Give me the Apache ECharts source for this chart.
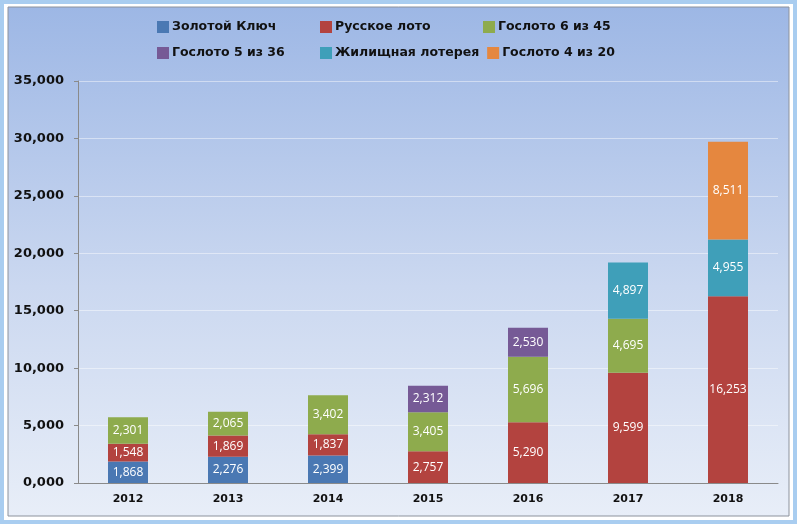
<!DOCTYPE html>
<html>
<head>
<meta charset="utf-8">
<script src="https://cdn.jsdelivr.net/npm/echarts@6/dist/echarts.min.js"></script>
<style>
  html, body { margin: 0; padding: 0; }
  #chart { width: 797px; height: 524px; }
</style>
</head>
<body>
<div id="chart"></div>
<script>
  const years = ['2012', '2013', '2014', '2015', '2016', '2017', '2018'];
  const zolotoyKlyuch = [1868, 2276, 2399, null, null, null, null];
  const russkoeLoto = [1548, 1869, 1837, 2757, 5290, 9599, 16253];
  const gosloto645 = [2301, 2065, 3402, 3405, 5696, 4695, null];
  const gosloto536 = [null, null, null, 2312, 2530, null, null];
  const zhilishchnaya = [null, null, null, null, null, 4897, 4955];
  const gosloto420 = [null, null, null, null, null, null, 8511];

  const seriesDefs = [
    ['Золотой Ключ', zolotoyKlyuch, '#4a78b3'],
    ['Русское лото', russkoeLoto, '#b3433f'],
    ['Гослото 6 из 45', gosloto645, '#8eab4d'],
    ['Гослото 5 из 36', gosloto536, '#765a96'],
    ['Жилищная лотерея', zhilishchnaya, '#3f9fb9'],
    ['Гослото 4 из 20', gosloto420, '#e5873f']
  ];

  const fmt = v => v.toLocaleString('en-US');

  const chart = echarts.init(document.getElementById('chart'), null, { renderer: 'canvas' });

  chart.setOption({
    animation: false,
    graphic: [
      { type: 'rect', z: -10, shape: { x: 0, y: 0, width: 797, height: 524 }, style: { fill: '#a9cdf0' } },
      { type: 'rect', z: -9, shape: { x: 4, y: 4, width: 789, height: 516 }, style: { fill: '#ffffff' } },
      {
        type: 'rect', z: -8,
        shape: { x: 8, y: 7, width: 781, height: 509 },
        style: {
          fill: new echarts.graphic.LinearGradient(0, 0, 0, 1, [
            { offset: 0, color: '#9db7e5' },
            { offset: 0.55, color: '#cbd8f0' },
            { offset: 1, color: '#e8eef8' }
          ]),
          stroke: '#8c929c',
          lineWidth: 1
        }
      }
    ],
    legend: {
      left: 157,
      top: 18,
      width: 500,
      padding: 0,
      itemWidth: 12,
      itemHeight: 12,
      itemGap: 8,
      icon: 'rect',
      textStyle: {
        fontFamily: 'DejaVu Sans',
        fontWeight: 'bold',
        fontSize: 12.5,
        color: '#111',
        width: 140,
        lineHeight: 18,
        padding: [0, 0, 0, -2]
      },
      data: seriesDefs.map(d => d[0])
    },
    grid: { left: 78, right: 19, top: 81, bottom: 41 },
    xAxis: {
      type: 'category',
      data: years,
      axisLine: { lineStyle: { color: '#8a8a8a' } },
      axisTick: { length: 5, lineStyle: { color: '#8a8a8a' } },
      axisLabel: {
        margin: 11,
        fontFamily: 'DejaVu Sans',
        fontWeight: 'bold',
        fontSize: 11,
        color: '#111'
      }
    },
    yAxis: {
      type: 'value',
      min: 0,
      max: 35000,
      interval: 5000,
      axisLine: { show: true, lineStyle: { color: '#8a8a8a' } },
      axisTick: { show: true, length: 4, lineStyle: { color: '#8a8a8a' } },
      splitLine: { lineStyle: { color: 'rgba(255,255,255,0.45)' } },
      axisLabel: {
        margin: 14,
        fontFamily: 'DejaVu Sans',
        fontWeight: 'bold',
        fontSize: 13,
        color: '#111',
        formatter: v => v === 0 ? '0,000' : fmt(v)
      }
    },
    series: seriesDefs.map(([name, data, color]) => ({
      name,
      type: 'bar',
      stack: 'total',
      barWidth: 40,
      data,
      itemStyle: { color },
      label: {
        show: true,
        position: 'inside',
        color: '#fff',
        fontFamily: 'Open Sans',
        fontSize: 12,
        formatter: p => fmt(p.value)
      }
    }))
  });
</script>
</body>
</html>
